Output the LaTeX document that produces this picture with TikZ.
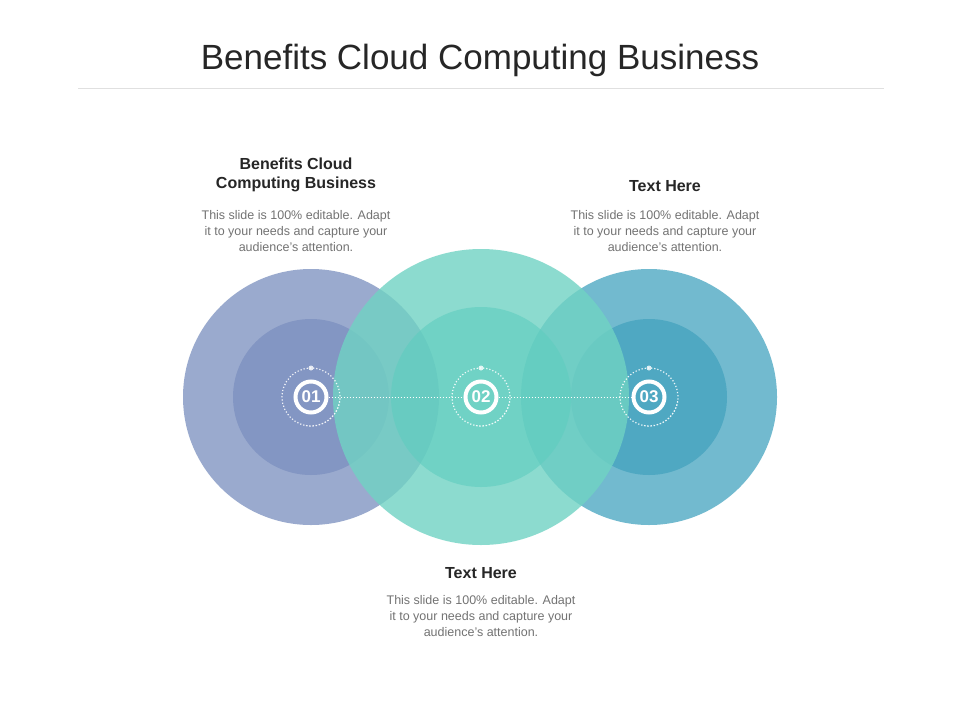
\documentclass[tikz,border=0pt]{standalone}
\usepackage{fontspec}
\setmainfont{Liberation Sans}
\begin{document}
\begin{tikzpicture}[x=1pt,y=-1pt,
 head/.style={font=\fontsize{16}{19}\selectfont\bfseries,text=black!85,align=center},
 body/.style={font=\fontsize{12.5}{16}\selectfont,text=black!55,align=center},
 num/.style={circle,draw=white,line width=4pt,minimum size=31pt,inner sep=0pt,text=white,font=\fontsize{17}{17}\selectfont\bfseries}]
\useasboundingbox (0,0) rectangle (960,720);
\fill[white] (0,0) rectangle (960,720);
\node[font=\fontsize{35}{40}\selectfont,text=black!85] (title) at (480,60) {Benefits Cloud Computing Business};
\draw[black!12] (78,88) -- (884,88);
\definecolor{c1o}{HTML}{9AAACE}\definecolor{c1i}{HTML}{8396C3}
\definecolor{c3o}{HTML}{72BACF}\definecolor{c3i}{HTML}{4FA8C2}
\definecolor{c2o}{HTML}{70D3C3}\definecolor{c2i}{HTML}{5ECDBF}
\fill[c1o] (311,397) circle (128); \fill[c1i] (311,397) circle (78);
\fill[c3o] (649,397) circle (128); \fill[c3i] (649,397) circle (78);
\fill[c2o,opacity=0.8] (481,397) circle (148);
\fill[c2i,opacity=0.6] (481,397) circle (90);
\node[num] (n1) at (311,397) {01};
\node[num] (n2) at (481,397) {02};
\node[num] (n3) at (649,397) {03};
\draw[white,dotted,line width=1pt] (n1) -- (n2) (n2) -- (n3);
\foreach \x in {311,481,649}{
 \draw[white,dotted,line width=1.2pt,opacity=0.9] (\x,397) ++(100:29) arc[start angle=100,end angle=-355,radius=29];
 \fill[white,opacity=0.8] (\x,368) circle (2.5);
}
\node[head] (h1) at (296,175) {Benefits Cloud\\Computing Business};
\node[body] (b1) at (296,231) {This slide is 100\% editable. Adapt\\it to your needs and capture your\\audience's attention.};
\node[head] (h3) at (665,186) {Text Here};
\node[body] (b3) at (665,231) {This slide is 100\% editable. Adapt\\it to your needs and capture your\\audience's attention.};
\node[head] (h2) at (481,573) {Text Here};
\node[body] (b2) at (481,616) {This slide is 100\% editable. Adapt\\it to your needs and capture your\\audience's attention.};
\end{tikzpicture}
\end{document}
